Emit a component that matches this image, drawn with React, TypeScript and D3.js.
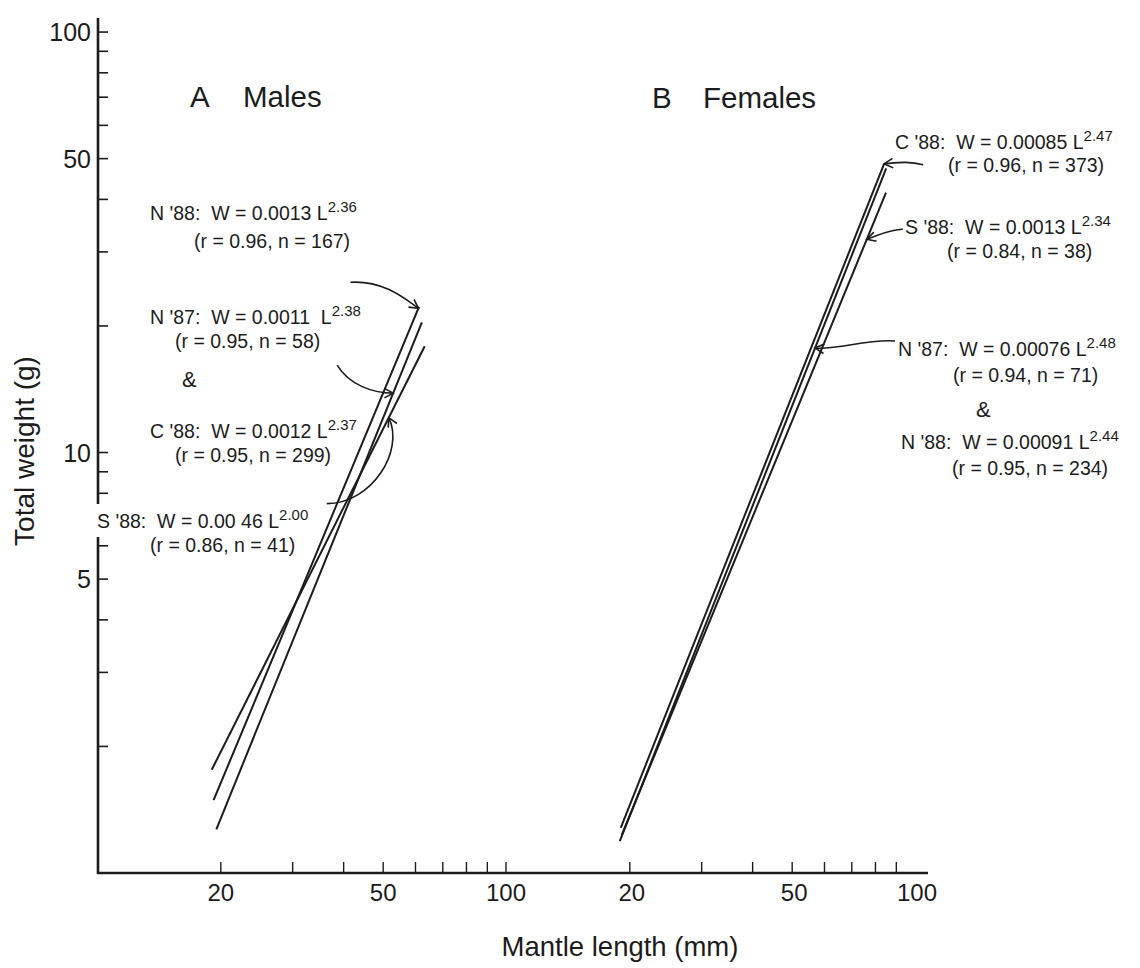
import * as d3 from "d3";

// shared y axis: total weight (g)
const yTickValues = [2, 3, 4, 5, 6, 7, 8, 9, 10, 20, 30, 40, 50, 60, 70, 80, 90, 100];
const yTickLabels = [5, 10, 50, 100];
// x axes: mantle length (mm), one per panel
const maleXTicks = [20, 30, 40, 50, 60, 70, 80, 90, 100];
const femaleXTicks = [20, 30, 40, 50, 60, 70, 80, 90];
const xTickLabels = [20, 50, 100];

// fitted lines, end points [L (mm), W (g)]
const maleN88 = [[19.2, 1.49], [61.2, 22.2]];
const maleN87C88 = [[19.5, 1.27], [62.2, 20.4]];
const maleS88 = [[19.0, 1.76], [63.2, 17.9]];
const femaleC88 = [[19.0, 1.28], [84.0, 48.6]];
const femaleN87N88 = [[18.9, 1.19], [85.0, 47.4]];
const femaleS88 = [[19.1, 1.23], [84.9, 41.5]];

const maleLabels = [
  { head: "N '88:  W = 0.0013 L", exp: "2.36", stats: "(r = 0.96, n = 167)" },
  { head: "N '87:  W = 0.0011  L", exp: "2.38", stats: "(r = 0.95, n = 58)" },
  { head: "C '88:  W = 0.0012 L", exp: "2.37", stats: "(r = 0.95, n = 299)" },
  { head: "S '88:  W = 0.00 46 L", exp: "2.00", stats: "(r = 0.86, n = 41)" },
];
const femaleLabels = [
  { head: "C '88:  W = 0.00085 L", exp: "2.47", stats: "(r = 0.96, n = 373)" },
  { head: "S '88:  W = 0.0013 L", exp: "2.34", stats: "(r = 0.84, n = 38)" },
  { head: "N '87:  W = 0.00076 L", exp: "2.48", stats: "(r = 0.94, n = 71)" },
  { head: "N '88:  W = 0.00091 L", exp: "2.44", stats: "(r = 0.95, n = 234)" },
];

// where the arrows touch the lines (mantle length)
const maleArrowTips = [
  { line: maleN88, L: 61.0 },
  { line: maleN87C88, L: 52.9 },
  { line: maleS88, L: 51.6 },
];
const femaleArrowTips = [
  { line: femaleC88, L: 84.0 },
  { line: femaleS88, L: 76.2 },
  { line: femaleN87N88, L: 56.9 },
];

const INK = "#1c1c1c";
const FONT = "'Liberation Sans', Arial, Helvetica, sans-serif";

const AXIS_X = 98;
const AXIS_Y = 873;

const y = d3.scaleLog().domain([1, 108]).range([AXIS_Y, 18]);
const xMale = d3.scaleLog().domain([10, 100]).range([98, 506]);
const xFemale = d3.scaleLog().domain([10, 100]).range([507, 915]);

// label placement: [head x, head baseline, stats x, stats baseline]
const maleLabelPos = [
  [150, 220, 194, 248],
  [150, 324, 175, 348],
  [150, 438, 175, 462],
  [97, 528, 150, 552],
];
const femaleLabelPos = [
  [895, 149, 948, 172],
  [905, 234, 947, 258],
  [898, 356, 953, 382],
  [901, 449, 952, 475],
];
// arrow shapes as offsets from the tip: tail, control 1, control 2
const maleArrowShape = [
  [[-68, -26], [-35, -28], [-14, -10]],
  [[-56, -28], [-44, -8], [-20, 0]],
  [[-62, 86], [-17, 86], [16, 33]],
];
const femaleArrowShape = [
  [[39, 1], [25, -3], [12, -1]],
  [[36, -10], [22, -10], [10, -3]],
  [[80, -7], [50, -9], [24, 2]],
];

function wAt(line: number[][], L: number) {
  const [[l0, w0], [l1, w1]] = line;
  const t = (Math.log(L) - Math.log(l0)) / (Math.log(l1) - Math.log(l0));
  return Math.exp(Math.log(w0) + t * (Math.log(w1) - Math.log(w0)));
}

const keepSpaces = (s: string) => s.replace(/ {2}/g, "\u00A0\u00A0");

function Arrow({ tip, shape }: { tip: [number, number]; shape: number[][] }) {
  const [tx, ty] = tip;
  const [d0, d1, d2] = shape;
  const p = d3.path();
  p.moveTo(tx + d0[0], ty + d0[1]);
  p.bezierCurveTo(tx + d1[0], ty + d1[1], tx + d2[0], ty + d2[1], tx, ty);
  const ang = Math.atan2(-d2[1], -d2[0]);
  const len = 10;
  const spread = 0.5;
  const h = d3.path();
  h.moveTo(tx - len * Math.cos(ang - spread), ty - len * Math.sin(ang - spread));
  h.lineTo(tx, ty);
  h.lineTo(tx - len * Math.cos(ang + spread), ty - len * Math.sin(ang + spread));
  return (
    <g fill="none" stroke={INK} strokeWidth={1.6}>
      <path d={p.toString()} />
      <path d={h.toString()} />
    </g>
  );
}

function Label({ lab, pos }: { lab: { head: string; exp: string; stats: string }; pos: number[] }) {
  return (
    <g fontSize={19.5} fill={INK}>
      <text x={pos[0]} y={pos[1]}>
        {keepSpaces(lab.head)}
        <tspan fontSize={15} dy={-8}>{lab.exp}</tspan>
      </text>
      <text x={pos[2]} y={pos[3]}>{lab.stats}</text>
    </g>
  );
}

export default function App() {
  const line = (sx: d3.ScaleLogarithmic<number, number>) =>
    d3.line<number[]>().x((d) => sx(d[0])).y((d) => y(d[1]));
  const maleLine = line(xMale);
  const femaleLine = line(xFemale);

  return (
    <svg width={1140} height={968} style={{ position: "absolute", left: 0, top: 0, background: "#fff" }} fontFamily={FONT}>
      <rect width={1140} height={968} fill="#fff" />

      {/* axes */}
      <g stroke={INK} fill="none">
        <line x1={AXIS_X} x2={AXIS_X} y1={y.range()[1]} y2={AXIS_Y + 1} strokeWidth={2.6} />
        <line x1={AXIS_X - 1} x2={928} y1={AXIS_Y} y2={AXIS_Y} strokeWidth={2.6} />
        {yTickValues.map((v) => (
          <line key={"yt" + v} x1={AXIS_X} x2={AXIS_X + 10} y1={y(v)} y2={y(v)} strokeWidth={1.6} />
        ))}
        {maleXTicks.map((v) => (
          <line key={"mt" + v} x1={xMale(v)} x2={xMale(v)} y1={AXIS_Y} y2={AXIS_Y - 11} strokeWidth={1.4} />
        ))}
        {femaleXTicks.map((v) => (
          <line key={"ft" + v} x1={xFemale(v)} x2={xFemale(v)} y1={AXIS_Y} y2={AXIS_Y - 11} strokeWidth={1.4} />
        ))}
      </g>
      {/* the S '88 label sits over the axis */}
      <rect x={AXIS_X - 5} y={504} width={14} height={33} fill="#fff" />

      <g fontSize={25} fill={INK}>
        {yTickLabels.map((v) => (
          <text key={"yl" + v} x={AXIS_X - 7} y={y(v)} dy="0.36em" textAnchor="end">{v}</text>
        ))}
      </g>
      <g fontSize={24} fill={INK}>
        {xTickLabels.map((v) => (
          <text key={"ml" + v} x={xMale(v)} y={901} textAnchor="middle">{v}</text>
        ))}
        {xTickLabels.map((v) => (
          <text key={"fl" + v} x={xFemale(v) + 2} y={901} textAnchor="middle">{v}</text>
        ))}
      </g>

      <text x={620} y={956} textAnchor="middle" fontSize={27.5} fill={INK}>Mantle length (mm)</text>
      <text transform="translate(34,451) rotate(-90)" textAnchor="middle" fontSize={28} fill={INK}>Total weight (g)</text>

      <g fontSize={29.5} fill={INK}>
        <text x={190} y={107}>A</text>
        <text x={243} y={107}>Males</text>
        <text x={652} y={108}>B</text>
        <text x={703} y={108}>Females</text>
      </g>

      {/* regression lines */}
      <g fill="none" stroke={INK} strokeWidth={2}>
        {[maleN88, maleN87C88, maleS88].map((d, i) => (
          <path key={"m" + i} d={maleLine(d) || ""} />
        ))}
        {[femaleC88, femaleN87N88, femaleS88].map((d, i) => (
          <path key={"f" + i} d={femaleLine(d) || ""} />
        ))}
      </g>

      {maleLabels.map((lab, i) => (
        <Label key={"mlab" + i} lab={lab} pos={maleLabelPos[i]} />
      ))}
      {femaleLabels.map((lab, i) => (
        <Label key={"flab" + i} lab={lab} pos={femaleLabelPos[i]} />
      ))}
      <g fontSize={22} fill={INK}>
        <text x={182} y={387}>&amp;</text>
        <text x={976} y={417}>&amp;</text>
      </g>

      {maleArrowTips.map((a, i) => (
        <Arrow key={"ma" + i} tip={[xMale(a.L), y(wAt(a.line, a.L))]} shape={maleArrowShape[i]} />
      ))}
      {femaleArrowTips.map((a, i) => (
        <Arrow key={"fa" + i} tip={[xFemale(a.L), y(wAt(a.line, a.L))]} shape={femaleArrowShape[i]} />
      ))}
    </svg>
  );
}
